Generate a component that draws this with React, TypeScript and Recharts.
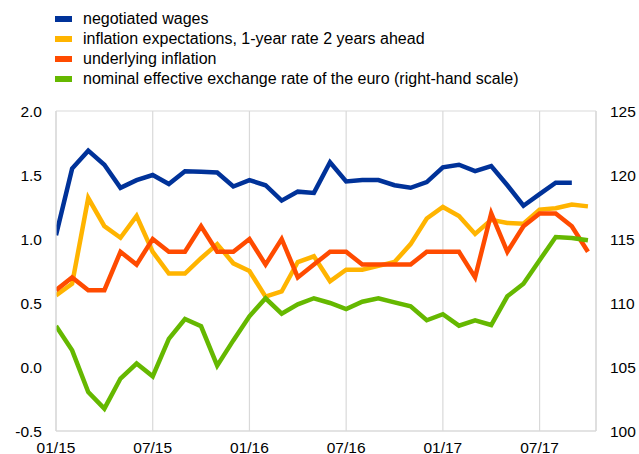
import React from "react";
import { LineChart, Line, XAxis, YAxis, CartesianGrid, Legend } from "recharts";

const months = [
  "01/15","02/15","03/15","04/15","05/15","06/15","07/15","08/15","09/15","10/15","11/15","12/15",
  "01/16","02/16","03/16","04/16","05/16","06/16","07/16","08/16","09/16","10/16","11/16","12/16",
  "01/17","02/17","03/17","04/17","05/17","06/17","07/17","08/17","09/17","10/17",
];

const negotiatedWages = [
  1.03, 1.55, 1.69, 1.58, 1.40, 1.46, 1.50, 1.43, 1.53, 1.525, 1.52, 1.41,
  1.46, 1.42, 1.30, 1.37, 1.36, 1.60, 1.45, 1.46, 1.46, 1.42, 1.40, 1.445,
  1.56, 1.58, 1.53, 1.57, 1.42, 1.26, 1.35, 1.44, 1.44, null,
];

const inflationExpectations = [
  0.56, 0.65, 1.32, 1.10, 1.01, 1.18, 0.90, 0.73, 0.73, 0.85, 0.96, 0.81,
  0.75, 0.55, 0.59, 0.82, 0.865, 0.67, 0.76, 0.76, 0.79, 0.82, 0.96, 1.16,
  1.25, 1.18, 1.04, 1.15, 1.125, 1.12, 1.23, 1.24, 1.27, 1.255,
];

const underlyingInflation = [
  0.6, 0.7, 0.6, 0.6, 0.9, 0.8, 1.0, 0.9, 0.9, 1.1, 0.9, 0.9,
  1.0, 0.8, 1.0, 0.7, 0.8, 0.9, 0.9, 0.8, 0.8, 0.8, 0.8, 0.9,
  0.9, 0.9, 0.7, 1.2, 0.9, 1.1, 1.2, 1.2, 1.1, 0.9,
];

const exchangeRate = [
  108.2, 106.3, 103.05, 101.75, 104.1, 105.27, 104.27, 107.2, 108.75, 108.18, 105.1, 107.08,
  108.96, 110.37, 109.17, 109.9, 110.37, 110.0, 109.53, 110.1, 110.37, 110.05, 109.74, 108.65,
  109.12, 108.23, 108.65, 108.28, 110.52, 111.5, 113.34, 115.16, 115.08, 114.9,
];

const leftTicks = [-0.5, 0, 0.5, 1.0, 1.5, 2.0];
const rightTicks = [100, 105, 110, 115, 120, 125];
const xTicks = [0, 6, 12, 18, 24, 30];

const seriesNames = [
  "negotiated wages",
  "inflation expectations, 1-year rate 2 years ahead",
  "underlying inflation",
  "nominal effective exchange rate of the euro (right-hand scale)",
];
const seriesColors = ["#003299", "#FFB400", "#FF4B00", "#65B800"];

const data = months.map((m, i) => ({
  x: i,
  month: m,
  wages: negotiatedWages[i],
  expectations: inflationExpectations[i],
  underlying: underlyingInflation[i],
  neer: exchangeRate[i],
}));

const FONT = "'Liberation Sans', Arial, Helvetica, sans-serif";
const GRID = "#d9d9d9";

const LegendContent = (props: any) => {
  const payload = [...(props.payload || [])].sort(
    (a: any, b: any) => seriesNames.indexOf(a.value) - seriesNames.indexOf(b.value)
  );
  return (
    <div style={{ fontFamily: FONT, fontSize: 16, color: "#000" }}>
      {payload.map((p: any, i: number) => (
        <div key={i} style={{ display: "flex", alignItems: "center", height: 20 }}>
          <span
            style={{
              display: "inline-block",
              width: 17,
              height: 6,
              background: p.color,
              marginRight: 11,
            }}
          />
          <span style={{ whiteSpace: "nowrap" }}>{p.value}</span>
        </div>
      ))}
    </div>
  );
};

const tickStyle = { fontFamily: FONT, fontSize: 15.5, fill: "#000" };

export default function App() {
  return (
    <div style={{ position: "absolute", left: 0, top: 0 }}>
      <LineChart
        width={639}
        height={454}
        data={data}
        margin={{ top: 111, right: 0, bottom: 0, left: 0 }}
      >
        <CartesianGrid stroke={GRID} strokeWidth={1.2} />
        <XAxis
          dataKey="x"
          type="number"
          domain={[0, 33.5]}
          ticks={xTicks}
          tickFormatter={(v: number) => months[v]}
          height={23}
          tickLine={false}
          tickSize={0}
          tickMargin={11}
          axisLine={{ stroke: GRID, strokeWidth: 1.2 }}
          tick={tickStyle}
          allowDataOverflow
        />
        <YAxis
          yAxisId="left"
          orientation="left"
          domain={[-0.5, 2]}
          ticks={leftTicks}
          tickFormatter={(v: number) => v.toFixed(1)}
          width={56}
          tickLine={false}
          tickSize={0}
          tickMargin={14}
          axisLine={{ stroke: GRID, strokeWidth: 1.2 }}
          tick={tickStyle}
        />
        <YAxis
          yAxisId="right"
          orientation="right"
          domain={[100, 125]}
          ticks={rightTicks}
          width={43}
          tickLine={false}
          tickSize={0}
          tickMargin={14}
          axisLine={{ stroke: GRID, strokeWidth: 1.2 }}
          tick={{ ...tickStyle, textAnchor: "start" }}
        />
        <Legend
          layout="vertical"
          align="center"
          verticalAlign="middle"
          itemSorter={null as any}
          content={<LegendContent />}
          wrapperStyle={{ position: "absolute", top: 9, left: 55, width: 560 }}
        />
        <Line
          yAxisId="left"
          name={seriesNames[0]}
          dataKey="wages"
          stroke={seriesColors[0]}
          strokeWidth={4.5}
          dot={false}
          strokeLinejoin="miter"
          isAnimationActive={false}
        />
        <Line
          yAxisId="left"
          name={seriesNames[1]}
          dataKey="expectations"
          stroke={seriesColors[1]}
          strokeWidth={4.5}
          dot={false}
          strokeLinejoin="miter"
          isAnimationActive={false}
        />
        <Line
          yAxisId="left"
          name={seriesNames[2]}
          dataKey="underlying"
          stroke={seriesColors[2]}
          strokeWidth={4.5}
          dot={false}
          strokeLinejoin="miter"
          isAnimationActive={false}
        />
        <Line
          yAxisId="right"
          name={seriesNames[3]}
          dataKey="neer"
          stroke={seriesColors[3]}
          strokeWidth={4.5}
          dot={false}
          strokeLinejoin="miter"
          isAnimationActive={false}
        />
      </LineChart>
    </div>
  );
}
